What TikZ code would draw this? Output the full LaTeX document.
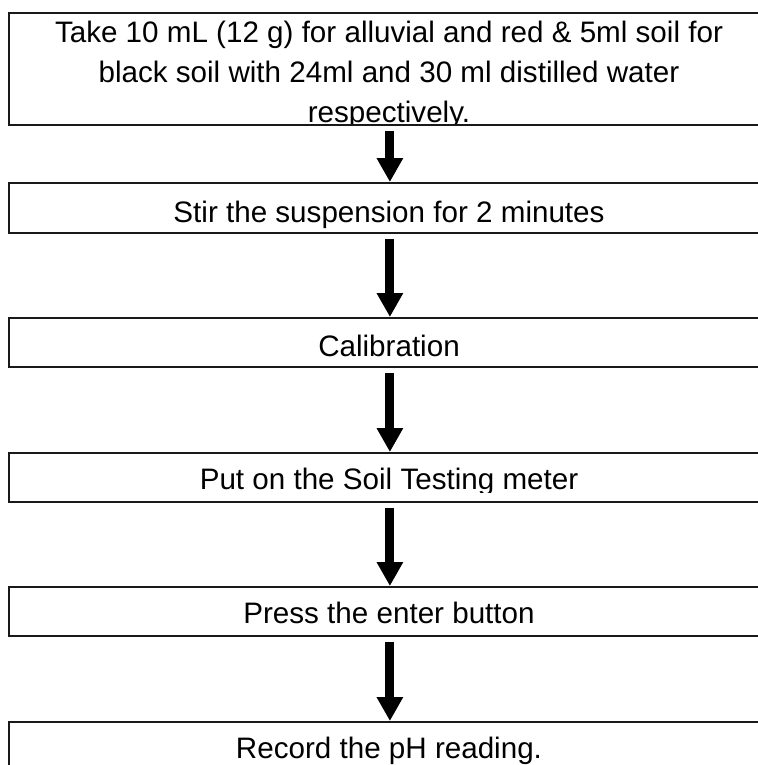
\documentclass[tikz,border=0pt]{standalone}
\usepackage{fontspec}
\setmainfont{Liberation Sans}
\usetikzlibrary{arrows.meta}
\begin{document}
\begin{tikzpicture}[x=1pt,y=-1pt,
  stepbox/.style={draw=black!90, line width=1.8pt, rectangle, minimum width=762pt, inner sep=0pt, anchor=north west},
  steptext/.style={anchor=base, inner sep=0pt, font=\fontsize{29.6}{40}\selectfont},
  flow/.style={line width=9pt, -{Triangle[width=25pt,length=24pt]}}]
\useasboundingbox (0,0) rectangle (757,765);
% boxes
\node[stepbox, minimum height=112pt] (b1) at (8,12) {};
\node[stepbox, minimum height=50pt] (b2) at (8,182) {};
\node[stepbox, minimum height=49pt] (b3) at (8,317) {};
\node[stepbox, minimum height=49pt] (b4) at (8,452) {};
\node[stepbox, minimum height=49pt] (b5) at (8,586) {};
\node[stepbox, minimum height=80pt] (b6) at (8,721) {};
% texts
\begin{scope}
\clip (8,12) rectangle (770,124);
\node[steptext] (t1a) at (389,43) {Take 10 mL (12 g) for alluvial and red \& 5ml soil for};
\node[steptext] (t1b) at (389,83) {black soil with 24ml and 30 ml distilled water};
\node[steptext] (t1c) at (389,123) {respectively.};
\end{scope}
\node[steptext] (t2) at (389,222) {Stir the suspension for 2 minutes};
\node[steptext] (t3) at (389,356) {Calibration};
\begin{scope}
\clip (8,452) rectangle (770,492);
\node[steptext] (t4) at (389,489) {Put on the Soil Testing meter};
\end{scope}
\node[steptext] (t5) at (389,623) {Press the enter button};
\node[steptext] (t6) at (389,758) {Record the pH reading.};
% arrows
\draw[flow] ([yshift=-5pt]b1.south) -- (b2.north);
\draw[flow] ([yshift=-5pt]b2.south) -- (b3.north);
\draw[flow] ([yshift=-5pt]b3.south) -- (b4.north);
\draw[flow] ([yshift=-5pt]b4.south) -- (b5.north);
\draw[flow] ([yshift=-5pt]b5.south) -- (b6.north);
\end{tikzpicture}
\end{document}
